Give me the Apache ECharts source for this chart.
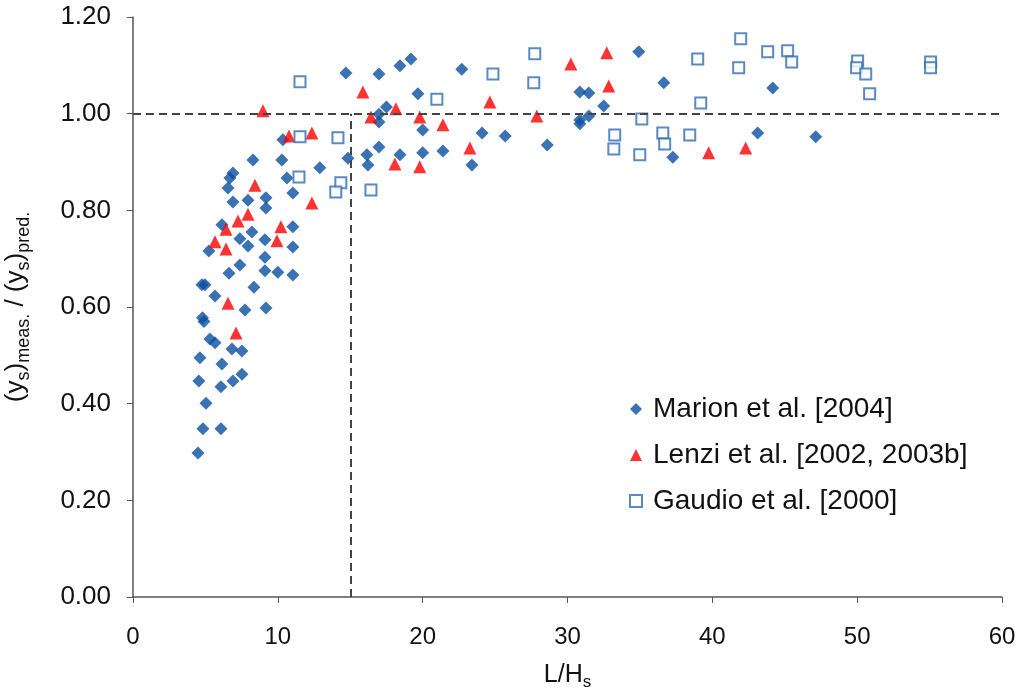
<!DOCTYPE html>
<html>
<head>
<meta charset="utf-8">
<script src="https://cdn.jsdelivr.net/npm/echarts@6/dist/echarts.min.js"></script>
<style>
  html, body { margin: 0; padding: 0; background: #fff; }
  #chart { width: 1023px; height: 691px; }
</style>
</head>
<body>
<div id="chart"></div>
<script>
// Scour depth ratio against step spacing, three data sources
const marionX = [4.49, 4.83, 6.07, 5.04, 4.55, 6.07, 6.90, 7.52, 4.62, 6.14, 6.83, 7.52, 5.31, 5.66, 4.80, 4.90,
  7.73, 9.18, 5.66, 4.76, 4.97, 8.35, 6.63, 7.38, 9.11, 10.0, 11.04, 9.11, 5.24, 7.94, 11.04, 9.11, 7.38, 8.21,
  6.14, 11.04, 9.18, 9.18, 7.94, 6.90, 11.04, 6.56, 6.69, 6.90, 10.63, 8.28, 10.28, 10.35, 12.9, 14.84, 16.15,
  16.22, 16.98, 18.43, 20.0, 21.4, 23.4, 20.0, 24.1, 25.7, 28.6, 16.98, 16.98, 17.5, 19.67, 14.7, 16.98, 18.43,
  19.19, 22.7, 30.85, 31.47, 32.5, 30.85, 31.47, 30.85, 34.92, 36.65, 37.27, 44.17, 43.13, 47.14];
const marionY = [0.298, 0.348, 0.348, 0.401, 0.447, 0.435, 0.447, 0.461, 0.495, 0.482, 0.513, 0.509, 0.534, 0.526, 0.578, 0.570,
  0.594, 0.598, 0.623, 0.646, 0.646, 0.641, 0.670, 0.687, 0.675, 0.672, 0.666, 0.703, 0.716, 0.726, 0.724, 0.739, 0.741, 0.755,
  0.770, 0.766, 0.805, 0.826, 0.821, 0.817, 0.836, 0.846, 0.867, 0.877, 0.867, 0.904, 0.904, 0.946, 0.888, 0.908, 0.915,
  0.894, 0.931, 0.915, 0.919, 0.923, 0.894, 0.966, 0.960, 0.954, 0.935, 0.983, 0.999, 1.014, 1.041, 1.084, 1.082, 1.099,
  1.113, 1.092, 1.045, 1.043, 1.016, 0.987, 0.995, 0.979, 1.128, 1.064, 0.910, 1.053, 0.960, 0.952];

const lenziX = [8.97, 10.77, 12.35, 8.42, 12.35, 7.94, 7.25, 6.42, 10.21, 9.94, 5.66, 6.42, 6.56, 7.11, 15.87, 18.15,
  16.43, 19.8, 21.4, 23.26, 18.08, 19.8, 24.64, 27.88, 30.23, 32.71, 32.85, 39.75, 42.3];
const lenziY = [1.006, 0.954, 0.960, 0.852, 0.815, 0.792, 0.778, 0.761, 0.766, 0.737, 0.735, 0.720, 0.608, 0.546, 1.045, 1.010,
  0.993, 0.993, 0.977, 0.929, 0.896, 0.890, 1.024, 0.995, 1.103, 1.126, 1.057, 0.919, 0.929];

const gaudioX = [11.53, 11.53, 11.46, 14.15, 14.35, 14.0, 16.43, 20.98, 24.85, 27.74, 27.67, 33.26, 33.2, 35.13, 34.99,
  36.58, 36.71, 38.44, 38.99, 39.2, 41.96, 41.82, 43.82, 45.2, 45.48, 50.03, 49.96, 50.59, 50.86, 55.07, 55.07];
const gaudioY = [1.066, 0.952, 0.869, 0.950, 0.857, 0.838, 0.842, 1.030, 1.082, 1.124, 1.064, 0.956, 0.927, 0.989, 0.915,
  0.960, 0.937, 0.956, 1.113, 1.022, 1.155, 1.095, 1.128, 1.130, 1.107, 1.109, 1.095, 1.082, 1.041, 1.107, 1.095];

const seriesNames = ['Marion et al. [2004]', 'Lenzi et al. [2002, 2003b]', 'Gaudio et al. [2000]'];
const xTicks = [0, 10, 20, 30, 40, 50, 60];
const yTicks = [0, 0.2, 0.4, 0.6, 0.8, 1.0, 1.2];
const thresholdX = 15;
const unityY = 1.0;

const pairs = (xs, ys) => xs.map((x, i) => [x, ys[i]]);

const chart = echarts.init(document.getElementById('chart'), null, { renderer: 'canvas' });
const axisColor = '#555';
const refLine = { color: '#444', type: [8, 5], width: 2 };
const sans = 'Liberation Sans, Arial, sans-serif';

chart.setOption({
  backgroundColor: '#fff',
  animation: false,
  grid: { left: 133, right: 21, top: 17, bottom: 94, containLabel: false, outerBoundsMode: 'none' },
  xAxis: {
    type: 'value',
    min: xTicks[0], max: xTicks[xTicks.length - 1], interval: 10,
    splitLine: { show: false },
    axisLine: { onZero: false, lineStyle: { color: axisColor, width: 1.5 } },
    axisTick: { show: true, inside: false, length: 6, lineStyle: { color: axisColor } },
    axisLabel: { color: '#111', fontFamily: sans, fontSize: 24, margin: 28 },
    name: '{n|L/H}{s|s}',
    nameLocation: 'middle',
    nameGap: 62,
    nameTextStyle: {
      rich: {
        n: { fontFamily: sans, fontSize: 25, color: '#111', lineHeight: 32, verticalAlign: 'middle' },
        s: { fontFamily: sans, fontSize: 17, color: '#111', lineHeight: 14, verticalAlign: 'bottom' }
      }
    }
  },
  yAxis: {
    type: 'value',
    min: yTicks[0], max: yTicks[yTicks.length - 1], interval: 0.2,
    splitLine: { show: false },
    axisLine: { show: true, lineStyle: { color: axisColor, width: 1.5 } },
    axisTick: { show: true, inside: false, length: 6, lineStyle: { color: axisColor } },
    axisLabel: { color: '#111', fontFamily: sans, fontSize: 26, margin: 22,
      formatter: v => v.toFixed(2) },
    name: '{n|(y}{s|s}{n|)}{s|meas.}{n| / (y}{s|s}{n|)}{s|pred.}',
    nameLocation: 'middle',
    nameRotate: 90,
    nameGap: 100,
    nameTextStyle: {
      rich: {
        n: { fontFamily: sans, fontSize: 26, color: '#111', lineHeight: 34, verticalAlign: 'middle' },
        s: { fontFamily: sans, fontSize: 18, color: '#111', lineHeight: 16, verticalAlign: 'bottom' }
      }
    }
  },
  legend: {
    orient: 'vertical',
    left: 624, top: 390,
    itemGap: 18,
    itemWidth: 12, itemHeight: 12,
    textStyle: { fontFamily: sans, fontSize: 28, color: '#111', padding: [0, 0, 0, 6] },
    data: seriesNames
  },
  series: [
    {
      name: seriesNames[0], type: 'scatter', symbol: 'diamond', symbolSize: 13,
      itemStyle: { color: '#0a4fa0' },
      data: pairs(marionX, marionY),
      markLine: {
        silent: true, symbol: 'none', label: { show: false },
        lineStyle: refLine,
        data: [
          [{ coord: [xTicks[0], unityY] }, { coord: [xTicks[xTicks.length - 1], unityY] }],
          [{ coord: [thresholdX, yTicks[0]] }, { coord: [thresholdX, unityY] }]
        ]
      }
    },
    {
      name: seriesNames[1], type: 'scatter', symbol: 'triangle', symbolSize: 13,
      itemStyle: { color: '#ff0000' },
      data: pairs(lenziX, lenziY)
    },
    {
      name: seriesNames[2], type: 'scatter', symbol: 'rect', symbolSize: 11,
      itemStyle: { color: '#fff', borderColor: '#2f6db3', borderWidth: 2 },
      data: pairs(gaudioX, gaudioY)
    }
  ]
});
</script>
</body>
</html>
